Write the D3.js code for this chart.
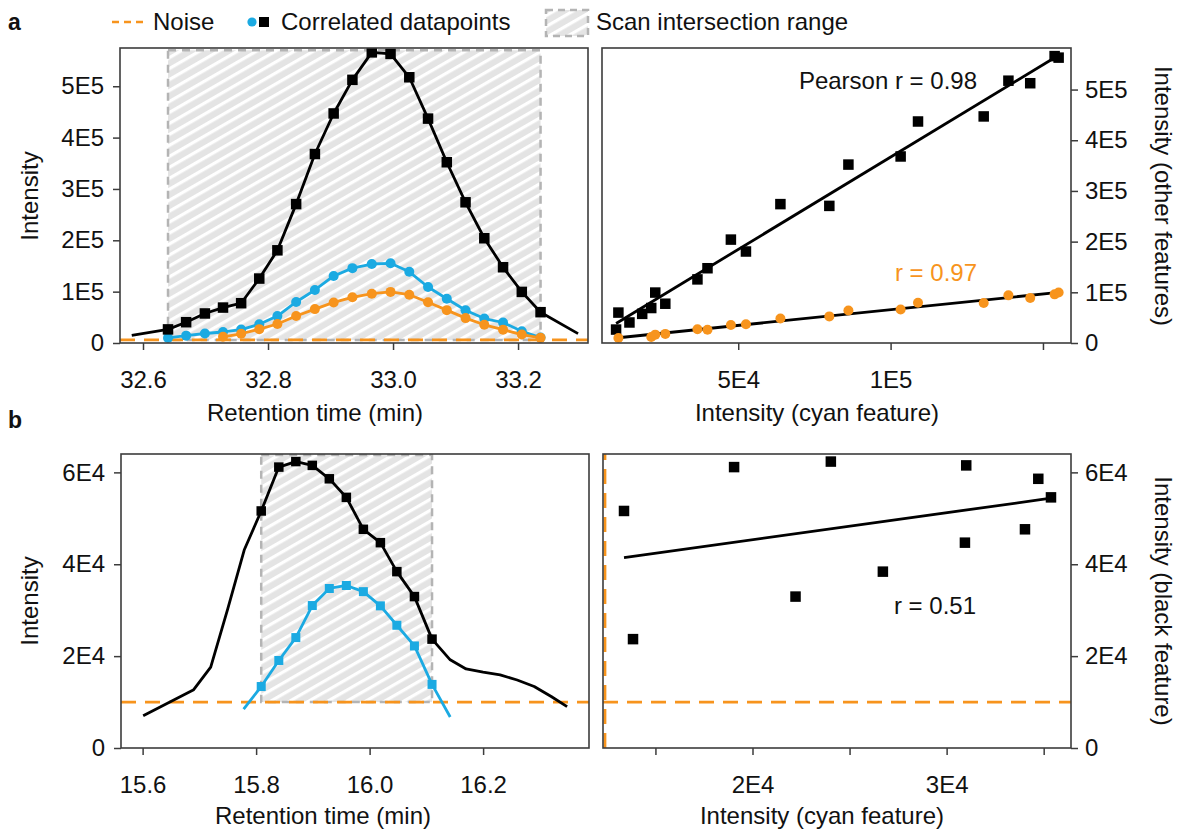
<!DOCTYPE html>
<html><head><meta charset="utf-8">
<script src="https://cdn.jsdelivr.net/npm/d3@7"></script>
<style>
body{margin:0;background:#fff;}
text{font-family:Arial,"Liberation Sans",sans-serif;}
</style></head><body>
<svg id="c" width="1179" height="830"></svg>
<script>
// ---------------- DATA ----------------
// Panel a: retention time scans (min) and intensities
const aTime   = [32.640, 32.669, 32.699, 32.728, 32.757, 32.786, 32.815, 32.845, 32.875, 32.905, 32.935, 32.966, 32.996, 33.026, 33.056, 33.086, 33.116, 33.146, 33.176, 33.206, 33.236];
const aBlack  = [26500, 40500, 57500, 69000, 77500, 125500, 180500, 270500, 368000, 447000, 512500, 566000, 563000, 517500, 437000, 352000, 274000, 204000, 147500, 99500, 60000];
const aCyan   = [9921, 14305, 18490, 21457, 26071, 36619, 52538, 79895, 103296, 130553, 145815, 153824, 155142, 138664, 108998, 86157, 63843, 47594, 39916, 22775, 10679];
const aOrange = [null, null, null, 12000, 18000, 27000, 37000, 52500, 66000, 79000, 89000, 96000, 99500, 94000, 79500, 64000, 48500, 35500, 26000, 16500, 10000];
// black trace outside the scan intersection (no markers)
const aBlackExtraTime = [32.582, 33.296];
const aBlackExtraVal  = [15000, 18300];
const aNoise = 6000;
const aHatchTop = 570000;

// Panel b
const bTime  = [15.809, 15.840, 15.870, 15.899, 15.929, 15.959, 15.989, 16.019, 16.048, 16.079, 16.110];
const bBlack = [51600, 61150, 62350, 61520, 58600, 54560, 47610, 44700, 38390, 32960, 23700];
const bCyan  = [13381, 19052, 24036, 31010, 34722, 35376, 34036, 30943, 26716, 22216, 13845];
const bBlackExtraTime = [15.601, 15.690, 15.720, 15.750, 15.779, 16.142, 16.170, 16.200, 16.230, 16.260, 16.290, 16.320, 16.348];
const bBlackExtraVal  = [7000, 12700, 17600, 30300, 43100, 19200, 17200, 16500, 15900, 14800, 13400, 11200, 9000];
const bCyanExtraTime = [15.778, 16.142];
const bCyanExtraVal  = [8478, 6739];
const bNoise = 10000;
const bCyanNoiseShown = 12400;
const bHatchTop = 63760;

// ticks
const aTimeTicks = [32.6, 32.8, 33.0, 33.2];
const aTimeLabels = ["32.6", "32.8", "33.0", "33.2"];
const aIntTicks = [0, 100000, 200000, 300000, 400000, 500000];
const aIntLabels = ["0", "1E5", "2E5", "3E5", "4E5", "5E5"];
const aCyanTicks = [50000, 100000, 150000];
const aCyanLabels = ["5E4", "1E5", ""];
const bTimeTicks = [15.6, 15.8, 16.0, 16.2];
const bTimeLabels = ["15.6", "15.8", "16.0", "16.2"];
const bIntTicks = [0, 20000, 40000, 60000];
const bIntLabels = ["0", "2E4", "4E4", "6E4"];
const bCyanTicks = [15000, 20000, 25000, 30000, 35000];
const bCyanLabels = ["", "2E4", "", "3E4", ""];

// axis domains
const aTimeDomain = [32.5632, 33.3119], aIntDomain = [0, 574500];
const aCyanDomain = [5300, 159200], aOtherDomain = [0, 582000];
const bTimeDomain = [15.5619, 16.3866], bIntDomain = [0, 64000];
const bCyanDomain = [12299, 36407];

// ---------------- STYLE ----------------
const ORANGE = "#F7941D", CYAN = "#1BAAE2", FRAME = "#3c3c3c", FS = 24;

const svg = d3.select("#c");
const defs = svg.append("defs");
const pat = defs.append("pattern").attr("id", "hatch").attr("patternUnits", "userSpaceOnUse")
  .attr("width", 10).attr("height", 9.5).attr("patternTransform", "rotate(-30)");
pat.append("rect").attr("width", 10).attr("height", 9.5).attr("fill", "#e4e4e4");
pat.append("rect").attr("width", 10).attr("height", 3.2).attr("fill", "#ffffff");

function panel(id, box, xd, yd, xt, xl, yt, yl, yRight) {
  const g = svg.append("g");
  const x = d3.scaleLinear().domain(xd).range([box.l, box.r]);
  const y = d3.scaleLinear().domain(yd).range([box.b, box.t]);
  defs.append("clipPath").attr("id", "clip" + id).append("rect")
    .attr("x", box.l).attr("y", box.t).attr("width", box.r - box.l).attr("height", box.b - box.t);
  const content = g.append("g").attr("clip-path", `url(#clip${id})`);
  const xa = g.append("g").attr("transform", `translate(0,${box.b})`)
    .call(d3.axisBottom(x).tickValues(xt).tickFormat((d, i) => xl[i]).tickSize(7).tickSizeOuter(0).tickPadding(21));
  const ya = g.append("g").attr("transform", `translate(${yRight ? box.r : box.l},0)`)
    .call((yRight ? d3.axisRight(y) : d3.axisLeft(y)).tickValues(yt).tickFormat((d, i) => yl[i]).tickSize(7).tickSizeOuter(0).tickPadding(yRight ? 7 : 9));
  [xa, ya].forEach(a => {
    a.select(".domain").remove();
    a.selectAll("line").attr("stroke", FRAME).attr("stroke-width", 1.5);
    a.selectAll("text").attr("font-size", FS).attr("fill", "#111").attr("font-family", "Arial, 'Liberation Sans', sans-serif");
  });
  const frame = () => g.append("rect").attr("x", box.l).attr("y", box.t)
    .attr("width", box.r - box.l).attr("height", box.b - box.t)
    .attr("fill", "none").attr("stroke", FRAME).attr("stroke-width", 1.6);
  return {g, content, x, y, frame};
}

function hatchRect(p, x0, x1, y0, y1) {
  p.content.append("rect")
    .attr("x", p.x(x0)).attr("y", p.y(y1)).attr("width", p.x(x1) - p.x(x0)).attr("height", p.y(y0) - p.y(y1))
    .attr("fill", "url(#hatch)").attr("stroke", "#b4b4b4").attr("stroke-width", 2.5).attr("stroke-dasharray", "8,6");
}
function hNoise(p, v) {
  const [a, b] = p.x.domain();
  p.content.append("line").attr("x1", p.x(a)).attr("x2", p.x(b)).attr("y1", p.y(v)).attr("y2", p.y(v))
    .attr("stroke", ORANGE).attr("stroke-width", 2.8).attr("stroke-dasharray", "15,9");
}
function vNoise(p, v) {
  const [a, b] = p.y.domain();
  p.content.append("line").attr("y1", p.y(a)).attr("y2", p.y(b)).attr("x1", p.x(v)).attr("x2", p.x(v))
    .attr("stroke", ORANGE).attr("stroke-width", 2.8).attr("stroke-dasharray", "15,9");
}
function trace(p, pts, color, w) {
  const line = d3.line().defined(d => d[1] != null).x(d => p.x(d[0])).y(d => p.y(d[1])).curve(d3.curveLinear);
  p.content.append("path").datum(pts.slice().sort((a, b) => a[0] - b[0]))
    .attr("d", line).attr("fill", "none").attr("stroke", color).attr("stroke-width", w)
    .attr("stroke-linejoin", "round").attr("stroke-linecap", "butt");
}
function squares(p, pts, color, s) {
  p.content.selectAll(null).data(pts.filter(d => d[1] != null)).enter().append("rect")
    .attr("x", d => p.x(d[0]) - s / 2).attr("y", d => p.y(d[1]) - s / 2)
    .attr("width", s).attr("height", s).attr("fill", color);
}
function circles(p, pts, color, r) {
  p.content.selectAll(null).data(pts.filter(d => d[1] != null)).enter().append("circle")
    .attr("cx", d => p.x(d[0])).attr("cy", d => p.y(d[1])).attr("r", r).attr("fill", color);
}
function fitLine(p, pts) {
  const mx = d3.mean(pts, d => d[0]), my = d3.mean(pts, d => d[1]);
  const sxy = d3.sum(pts, d => (d[0] - mx) * (d[1] - my)), sxx = d3.sum(pts, d => (d[0] - mx) ** 2);
  const k = sxy / sxx, c = my - k * mx;
  const [x0, x1] = d3.extent(pts, d => d[0]);
  p.content.append("line").attr("x1", p.x(x0)).attr("x2", p.x(x1)).attr("y1", p.y(k * x0 + c)).attr("y2", p.y(k * x1 + c))
    .attr("stroke", "#000").attr("stroke-width", 2.8);
}
const zip = (a, b) => a.map((v, i) => [v, b[i]]);

// ---------------- PANEL a (left) ----------------
const tl = panel("tl", {l: 120, r: 588, t: 48, b: 343}, aTimeDomain, aIntDomain, aTimeTicks, aTimeLabels, aIntTicks, aIntLabels, false);
hatchRect(tl, aTime[0], aTime[aTime.length - 1], aNoise, aHatchTop);
hNoise(tl, aNoise);
trace(tl, zip(aTime, aCyan), CYAN, 2.8);
circles(tl, zip(aTime, aCyan), CYAN, 5);
trace(tl, zip(aTime, aOrange), ORANGE, 2.8);
circles(tl, zip(aTime, aOrange), ORANGE, 5);
trace(tl, zip(aTime, aBlack).concat(zip(aBlackExtraTime, aBlackExtraVal)), "#000", 2.8);
squares(tl, zip(aTime, aBlack), "#000", 10.5);
tl.frame();

// ---------------- PANEL a (right) ----------------
const tr = panel("tr", {l: 602, r: 1071, t: 48, b: 343}, aCyanDomain, aOtherDomain, aCyanTicks, aCyanLabels, aIntTicks, aIntLabels, true);
const aBlackPairs = zip(aCyan, aBlack);
const aOrangePairs = zip(aCyan, aOrange).filter(d => d[1] != null);
fitLine(tr, aBlackPairs);
fitLine(tr, aOrangePairs);
squares(tr, aBlackPairs, "#000", 10.5);
circles(tr, aOrangePairs, ORANGE, 5);
tr.frame();

// ---------------- PANEL b (left) ----------------
const bl = panel("bl", {l: 121, r: 589, t: 454, b: 748}, bTimeDomain, bIntDomain, bTimeTicks, bTimeLabels, bIntTicks, bIntLabels, false);
hatchRect(bl, bTime[0], bTime[bTime.length - 1], bNoise, bHatchTop);
hNoise(bl, bNoise);
trace(bl, zip(bTime, bCyan).concat(zip(bCyanExtraTime, bCyanExtraVal)), CYAN, 2.8);
squares(bl, zip(bTime, bCyan), CYAN, 9);
trace(bl, zip(bTime, bBlack).concat(zip(bBlackExtraTime, bBlackExtraVal)), "#000", 2.8);
squares(bl, zip(bTime, bBlack), "#000", 9.5);
bl.frame();

// ---------------- PANEL b (right) ----------------
const br = panel("br", {l: 603, r: 1071, t: 454, b: 748}, bCyanDomain, bIntDomain, bCyanTicks, bCyanLabels, bIntTicks, bIntLabels, true);
hNoise(br, bNoise);
vNoise(br, bCyanNoiseShown);
const bPairs = zip(bCyan, bBlack);
fitLine(br, bPairs);
squares(br, bPairs, "#000", 10.5);
br.frame();

// ---------------- TEXT ----------------
function txt(x, y, s, opt = {}) {
  const t = svg.append("text").attr("x", x).attr("y", y).text(s).attr("font-size", opt.fs || FS)
    .attr("text-anchor", opt.anchor || "start").attr("fill", opt.fill || "#111");
  if (opt.bold) t.attr("font-weight", "bold");
  if (opt.rot) t.attr("transform", `rotate(${opt.rot},${x},${y})`);
  return t;
}
txt(8, 30, "a", {bold: true, fs: 23});
txt(8, 428, "b", {bold: true, fs: 23});

txt(315, 421, "Retention time (min)", {anchor: "middle"});
txt(817, 421, "Intensity (cyan feature)", {anchor: "middle"});
txt(323, 824, "Retention time (min)", {anchor: "middle"});
txt(822, 824, "Intensity (cyan feature)", {anchor: "middle"});
txt(38, 196, "Intensity", {anchor: "middle", rot: -90});
txt(38, 601, "Intensity", {anchor: "middle", rot: -90});
txt(1155, 196, "Intensity (other features)", {anchor: "middle", rot: 90});
txt(1155, 601, "Intensity (black feature)", {anchor: "middle", rot: 90});

txt(977, 89, "Pearson r = 0.98", {anchor: "end"});
txt(977, 281, "r = 0.97", {anchor: "end", fill: ORANGE});
txt(976, 614, "r = 0.51", {anchor: "end"});

// legend
svg.append("line").attr("x1", 112).attr("x2", 148).attr("y1", 22).attr("y2", 22)
  .attr("stroke", ORANGE).attr("stroke-width", 2.5).attr("stroke-dasharray", "7,5");
txt(153, 30, "Noise");
svg.append("circle").attr("cx", 252).attr("cy", 22).attr("r", 4.6).attr("fill", CYAN);
svg.append("rect").attr("x", 259).attr("y", 17).attr("width", 10).attr("height", 10).attr("fill", "#000");
txt(281, 30, "Correlated datapoints");
svg.append("rect").attr("x", 546).attr("y", 10).attr("width", 42).attr("height", 26)
  .attr("fill", "url(#hatch)").attr("stroke", "#b4b4b4").attr("stroke-width", 2.5).attr("stroke-dasharray", "7,5");
txt(596, 30, "Scan intersection range");
</script></body></html>
